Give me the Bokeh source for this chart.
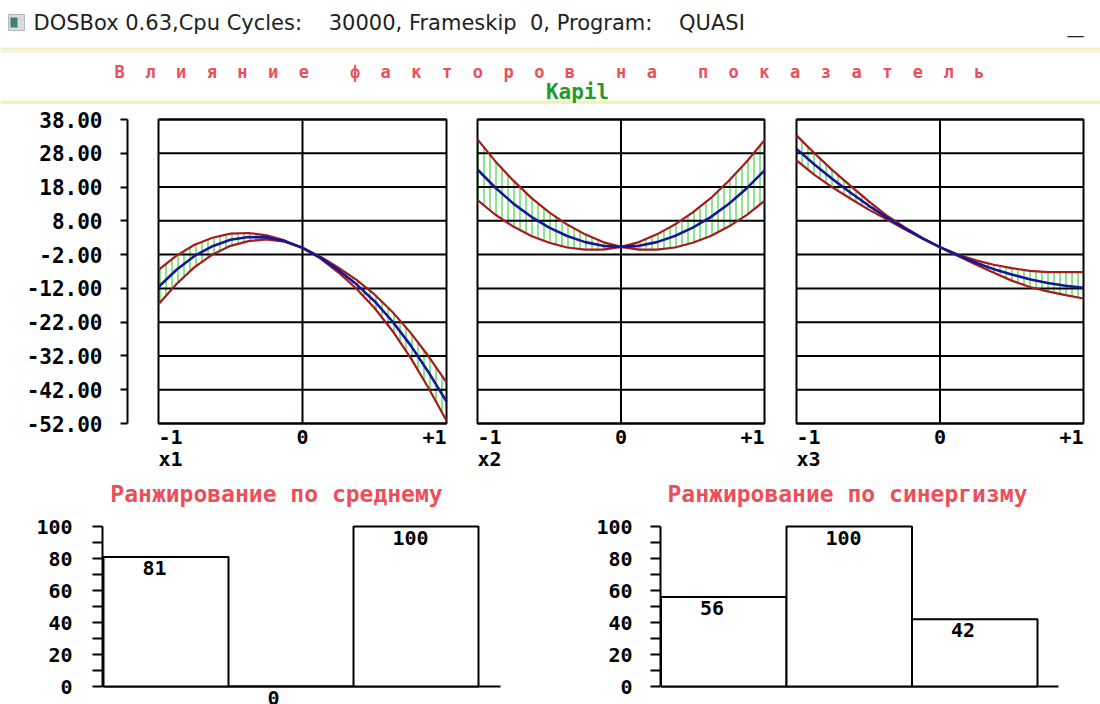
from bokeh.plotting import figure
from bokeh.layouts import column, row
from bokeh.models import Range1d, FixedTicker, PrintfTickFormatter, ColumnDataSource
from bokeh.core.properties import value
from bokeh.embed import file_html
from bokeh.resources import INLINE

# ------------------------------------------------------------------ data
window_title = "DOSBox 0.63,Cpu Cycles:    30000, Frameskip  0, Program:    QUASI"
header_main = "Влияние факторов на показатель"
header_sub = "Kapil"

factor_names = ["x1", "x2", "x3"]
x_tick_labels = ["-1", "0", "+1"]
x_tick_values = [-1, 0, 1]
y_ticks = [-52, -42, -32, -22, -12, -2, 8, 18, 28, 38]

x_pts = [-1.0, -0.875, -0.75, -0.625, -0.5, -0.375, -0.25, -0.125, 0.0,
         0.125, 0.25, 0.375, 0.5, 0.625, 0.75, 0.875, 1.0]

x1_mean = [-11.6, -6.5, -2.4, 0.5, 2.4, 3.2, 3.1, 2.0, 0.0,
           -2.9, -6.6, -10.8, -15.8, -21.8, -28.8, -36.8, -45.5]
x1_upper = [-6.5, -2.3, 0.9, 3.0, 4.2, 4.4, 3.7, 2.2, 0.0,
            -2.6, -5.9, -9.5, -13.8, -19.0, -25.1, -32.1, -39.8]
x1_lower = [-16.7, -10.7, -5.7, -2.0, 0.6, 2.0, 2.5, 1.8, 0.0,
            -3.2, -7.3, -12.1, -17.8, -24.6, -32.5, -41.5, -51.2]

x2_mean = [23.2, 17.8, 13.1, 9.2, 6.0, 3.5, 1.7, 0.6, 0.3,
           0.6, 1.7, 3.5, 6.0, 9.1, 13.0, 17.6, 22.9]
x2_upper = [32.1, 25.6, 19.9, 14.8, 10.5, 6.9, 4.0, 1.7, 0.3,
            1.7, 4.0, 6.9, 10.5, 14.7, 19.8, 25.5, 31.9]
x2_lower = [14.1, 9.8, 6.3, 3.5, 1.5, 0.1, -0.5, -0.5, 0.3,
            -0.5, -0.5, 0.1, 1.5, 3.5, 6.3, 9.7, 13.9]

x3_mean = [29.3, 24.7, 20.4, 16.4, 12.6, 9.1, 5.9, 2.9, 0.2,
           -2.2, -4.4, -6.3, -7.9, -9.3, -10.4, -11.2, -11.8]
x3_upper = [33.3, 28.0, 23.0, 18.4, 13.9, 9.7, 6.2, 3.0, 0.2,
            -2.0, -3.7, -5.0, -6.0, -6.8, -7.2, -7.2, -7.2]
x3_lower = [25.9, 21.6, 17.9, 14.6, 11.4, 8.5, 5.6, 2.8, 0.2,
            -2.4, -4.9, -7.4, -9.7, -11.6, -12.9, -14.0, -15.0]

rank_title_mean = "Ранжирование по среднему"
rank_title_syn = "Ранжирование по синергизму"
rank_mean = [81, 0, 100]
rank_syn = [56, 100, 42]
rank_ticks = [0, 20, 40, 60, 80, 100]
rank_minor = [10, 30, 50, 70, 90]

# ------------------------------------------------------------------ style / layout
MONO = value("DejaVu Sans Mono")
SANS = value("DejaVu Sans")
RED = "#a31b1b"
BLUE = "#16169a"
GREEN = "#6fe06f"
LRED = "#ec4f5a"
DGREEN = "#1f9a2c"
YEL = "#f5f1bd"
NB = "\u00a0"

W = 1100


def keep_spaces(s):
    return s.replace(" ", NB)


def base_fig(w, h, xr, yr, left=0, yaxis=None):
    p = figure(width=w, height=h, x_range=xr, y_range=yr, toolbar_location=None,
               output_backend="svg", x_axis_location=None, y_axis_location=yaxis,
               min_border_left=left, min_border_right=0, min_border_top=0,
               min_border_bottom=0)
    p.outline_line_color = None
    p.background_fill_color = "white"
    p.border_fill_color = "white"
    p.grid.visible = False
    return p


# ---------------- window title bar (page y 0..50)
T_H = 50
t = base_fig(W, T_H, Range1d(0, W), Range1d(T_H, 0))
t.quad(left=[8], right=[24], top=[14], bottom=[30], fill_color="#d8dcdc", line_color="#b0b8b8")
t.quad(left=[10], right=[17], top=[17], bottom=[27], fill_color="#3d7f76", line_color=None)
t.text(x=[33], y=[22], text=[keep_spaces(window_title)], text_font=SANS, text_font_size="21px",
       text_color="#1e1e1e", text_align="left", text_baseline="middle")
t.text(x=[1075], y=[34], text=["—"], text_font=SANS, text_font_size="18px",
       text_color="#1e1e1e", text_align="center", text_baseline="middle")
t.quad(left=[0], right=[W], top=[47], bottom=[50], fill_color=YEL, line_color=None)

# ---------------- DOS header (page y 50..104)
H_TOP = 50
H_H = 54
h = base_fig(W, H_H, Range1d(0, W), Range1d(H_H, 0))
h.quad(left=[0, 0], right=[W, W], top=[0, 50], bottom=[2, 54], fill_color=YEL, line_color=None)
spaced = (NB * 4).join((NB * 2).join(word) for word in header_main.split())
h.text(x=[549], y=[71 - H_TOP], text=[spaced], text_font=MONO, text_font_style="bold",
       text_font_size="17px", text_color=LRED, text_align="center", text_baseline="middle")
h.text(x=[577], y=[91 - H_TOP], text=[header_sub], text_font=MONO, text_font_style="bold",
       text_font_size="21px", text_color=DGREEN, text_align="center", text_baseline="middle")

# ---------------- three response panels (page y 104..470)
P_TOP, P_BOT = 104, 470
P_H = P_BOT - P_TOP
FRAME_L = 127                     # page x where the frame (and y axis) starts
FRAME_R = W
panels_px = [(158, 446), (477, 764), (796, 1083)]
Y_TOP_PX, Y_BOT_PX = 119, 423
ymin, ymax = y_ticks[0], y_ticks[-1]
u_per_px = (ymax - ymin) / (Y_BOT_PX - Y_TOP_PX)
yr = Range1d(ymin - (P_BOT - Y_BOT_PX) * u_per_px, ymax + (Y_TOP_PX - P_TOP) * u_per_px)


def panel_range(l_px, r_px):
    upx = 2.0 / (r_px - l_px)
    start = -1 - (l_px - FRAME_L) * upx
    return Range1d(start, start + (FRAME_R - FRAME_L) * upx)


ranges = [panel_range(*lr) for lr in panels_px]
p = base_fig(W, P_H, ranges[0], yr, left=FRAME_L, yaxis="left")
p.extra_x_ranges = {"p2": ranges[1], "p3": ranges[2]}
range_names = ["default", "p2", "p3"]

ax = p.yaxis[0]
ax.ticker = FixedTicker(ticks=y_ticks)
ax.bounds = (ymin, ymax)
ax.formatter = PrintfTickFormatter(format="%.2f")
ax.axis_line_width = 2
ax.axis_line_color = "black"
ax.major_tick_line_width = 2
ax.major_tick_out = 7
ax.major_tick_in = 0
ax.minor_tick_line_color = None
ax.major_label_standoff = 18
ax.major_label_text_font = "DejaVu Sans Mono"
ax.major_label_text_font_style = "bold"
ax.major_label_text_font_size = "21px"
ax.major_label_text_color = "black"

series = [(x1_mean, x1_upper, x1_lower), (x2_mean, x2_upper, x2_lower), (x3_mean, x3_upper, x3_lower)]
for k, (mean, up, lo) in enumerate(series):
    kw = {} if k == 0 else {"x_range_name": range_names[k]}
    p.varea(x=x_pts, y1=lo, y2=up, fill_alpha=0, hatch_pattern="|", hatch_color=GREEN,
            hatch_scale=6, hatch_weight=1.6, **kw)
    n = len(y_ticks)
    p.segment(x0=[-1] * n, x1=[1] * n, y0=y_ticks, y1=y_ticks, line_color="black",
              line_width=2, **kw)
    p.segment(x0=[0], x1=[0], y0=[ymin], y1=[ymax], line_color="black", line_width=2, **kw)
    p.quad(left=[-1], right=[1], bottom=[ymin], top=[ymax], fill_color=None,
           line_color="black", line_width=2, **kw)
    p.line(x_pts, up, line_color=RED, line_width=2.2, **kw)
    p.line(x_pts, lo, line_color=RED, line_width=2.2, **kw)
    p.line(x_pts, mean, line_color=BLUE, line_width=2.6, **kw)
    src = ColumnDataSource(dict(x=x_tick_values, y=[ymin] * 3, t=x_tick_labels,
                                a=["left", "center", "right"]))
    p.text(x="x", y="y", text="t", text_align="a", source=src, y_offset=6,
           text_baseline="top", text_font=MONO, text_font_style="bold",
           text_font_size="20px", text_color="black", **kw)
    p.text(x=[-1], y=[ymin], text=[factor_names[k]], y_offset=23, text_baseline="top",
           text_align="left", text_font=MONO, text_font_style="bold",
           text_font_size="20px", text_color="black", **kw)

# ---------------- ranking bar charts (page y 470..704)
B_TOP, B_BOT = 470, 704
B_H = B_BOT - B_TOP
ZERO_PX, HUND_PX = 686, 526
bu = (rank_ticks[-1] - rank_ticks[0]) / (ZERO_PX - HUND_PX)
TITLE_PX = 493
FIG_W = 550


def rank_chart(vals, title, fig_l, frame_l, bar_l, bar_w, axis_end, title_cx, standoff):
    upx = 1.0 / bar_w
    xs = -(bar_l - frame_l) * upx
    xr = Range1d(xs, xs + (fig_l + FIG_W - frame_l) * upx)
    yr_b = Range1d(-(B_BOT - ZERO_PX) * bu, 100 + (HUND_PX - B_TOP) * bu)
    b = base_fig(FIG_W, B_H, xr, yr_b, left=frame_l - fig_l, yaxis="left")
    a = b.yaxis[0]
    a.ticker = FixedTicker(ticks=rank_ticks, minor_ticks=rank_minor)
    a.bounds = (0, 100)
    a.axis_line_width = 2
    a.major_tick_line_width = 2
    a.minor_tick_line_width = 2
    a.major_tick_out = 10
    a.major_tick_in = 0
    a.minor_tick_out = 10
    a.minor_tick_in = 0
    a.major_label_standoff = standoff
    a.major_label_text_font = "DejaVu Sans Mono"
    a.major_label_text_font_style = "bold"
    a.major_label_text_font_size = "20px"
    a.major_label_text_color = "black"
    idx = list(range(len(vals)))
    b.segment(x0=[0], x1=[(axis_end - bar_l) * upx], y0=[0], y1=[0], line_color="black",
              line_width=2)
    b.quad(left=idx, right=[i + 1 for i in idx], bottom=[0] * len(vals), top=vals,
           fill_color="white", line_color="black", line_width=2)
    b.text(x=idx, y=vals, text=[str(v) for v in vals], x_offset=39, y_offset=4,
           text_align="left", text_baseline="top", text_font=MONO, text_font_style="bold",
           text_font_size="20px", text_color="black")
    b.text(x=[(title_cx - bar_l) * upx], y=[(ZERO_PX - TITLE_PX) * bu], text=[title],
           text_align="center", text_baseline="middle", text_font=MONO,
           text_font_style="bold", text_font_size="23px", text_color=LRED)
    return b


bl = rank_chart(rank_mean, rank_title_mean, 0, 102, 103, 125, 500, 276, 20)
br = rank_chart(rank_syn, rank_title_syn, FIG_W, 660, 660.5, 125.5, 1058, 847, 18)

layout = column(row(t), row(h), p, row(bl, br, spacing=0), spacing=0)
open("out.html", "w").write(file_html(layout, INLINE))
